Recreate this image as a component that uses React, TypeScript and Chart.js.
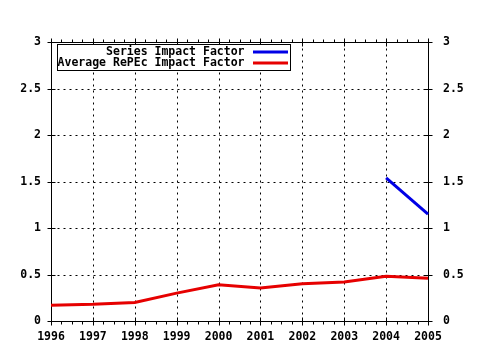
import React, { useEffect, useRef } from 'react';
import { Chart, registerables } from 'chart.js';
Chart.register(...registerables);

const years = [1996, 1997, 1998, 1999, 2000, 2001, 2002, 2003, 2004, 2005];
const seriesImpact: (number | null)[] = [null, null, null, null, null, null, null, null, 1.54, 1.15];
const avgImpact = [0.17, 0.18, 0.2, 0.3, 0.39, 0.355, 0.4, 0.42, 0.48, 0.46];
const yTicks = [0, 0.5, 1, 1.5, 2, 2.5, 3];
const yTickLabels = ['0', '0.5', '1', '1.5', '2', '2.5', '3'];
const seriesNames = ['Series Impact Factor', 'Average RePEc Impact Factor'];
const seriesColors = ['#0000e6', '#e60000'];

const FONT = "bold 11.5px 'DejaVu Sans Mono', monospace";

const gnuplotPlugin = {
  id: 'gnuplotFrame',
  beforeDatasetsDraw(chart: any) {
    const { ctx, chartArea: a, scales } = chart;
    const x = scales.x;
    const y = scales.y;
    const L = Math.round(a.left) + 0.5;
    const R = Math.round(a.right) + 0.5;
    const T = Math.round(a.top) + 0.5;
    const B = Math.round(a.bottom) + 0.5;
    const seg = (x1: number, y1: number, x2: number, y2: number) => {
      ctx.beginPath();
      ctx.moveTo(x1, y1);
      ctx.lineTo(x2, y2);
      ctx.stroke();
    };
    ctx.save();
    ctx.strokeStyle = '#000';
    ctx.lineWidth = 1;
    // grid
    ctx.setLineDash([2, 4]);
    years.slice(1, -1).forEach((yr) => {
      const px = Math.round(x.getPixelForValue(yr)) + 0.5;
      seg(px, T, px, B);
    });
    yTicks.slice(1, -1).forEach((v) => {
      const py = Math.round(y.getPixelForValue(v)) + 0.5;
      seg(L, py, R, py);
    });
    ctx.setLineDash([]);
    // border
    ctx.strokeRect(L, T, R - L, B - T);
    // x ticks
    for (let i = 0; i < years.length; i++) {
      const px = Math.round(x.getPixelForValue(years[i])) + 0.5;
      seg(px, B - 4, px, B + 4);
      seg(px, T - 4, px, T + 4);
      if (i < years.length - 1) {
        for (let q = 1; q < 4; q++) {
          const mx = Math.round(x.getPixelForValue(years[i] + q / 4)) + 0.5;
          seg(mx, B, mx, B + 3);
          seg(mx, T, mx, T - 3);
        }
      }
    }
    // y ticks
    yTicks.forEach((v) => {
      const py = Math.round(y.getPixelForValue(v)) + 0.5;
      seg(L - 4, py, L + 4, py);
      seg(R - 4, py, R + 4, py);
    });
    // labels
    ctx.fillStyle = '#000';
    ctx.font = FONT;
    ctx.textBaseline = 'middle';
    ctx.textAlign = 'center';
    years.forEach((yr) => {
      ctx.fillText(String(yr), x.getPixelForValue(yr), 337);
    });
    yTicks.forEach((v, i) => {
      const py = y.getPixelForValue(v) + 0.5;
      ctx.textAlign = 'right';
      ctx.fillText(yTickLabels[i], 41, py);
      ctx.textAlign = 'left';
      ctx.fillText(yTickLabels[i], 443, py);
    });
    ctx.restore();
  },
  afterDatasetsDraw(chart: any) {
    const { ctx } = chart;
    ctx.save();
    ctx.fillStyle = '#fff';
    ctx.fillRect(57.5, 44.5, 233, 26);
    ctx.strokeStyle = '#000';
    ctx.lineWidth = 1;
    ctx.strokeRect(57.5, 44.5, 233, 26);
    ctx.font = FONT;
    ctx.textBaseline = 'middle';
    ctx.textAlign = 'right';
    const rows = [51.7, 63.3];
    seriesNames.forEach((name, i) => {
      ctx.fillStyle = '#000';
      ctx.fillText(name, 244.5, rows[i]);
      ctx.strokeStyle = seriesColors[i];
      ctx.lineWidth = 3;
      ctx.beginPath();
      ctx.moveTo(253, Math.round(rows[i]));
      ctx.lineTo(288, Math.round(rows[i]));
      ctx.stroke();
    });
    ctx.restore();
  },
};

export default function App() {
  const ref = useRef<HTMLCanvasElement | null>(null);
  useEffect(() => {
    if (!ref.current) return;
    const chart = new Chart(ref.current, {
      type: 'line',
      data: {
        datasets: [
          {
            label: seriesNames[0],
            data: years.map((yr, i) => ({ x: yr, y: seriesImpact[i] })) as any,
            borderColor: seriesColors[0],
            borderWidth: 3,
            pointRadius: 0,
            tension: 0,
            spanGaps: false,
            clip: false as any,
          },
          {
            label: seriesNames[1],
            data: years.map((yr, i) => ({ x: yr, y: avgImpact[i] })) as any,
            borderColor: seriesColors[1],
            borderWidth: 3,
            pointRadius: 0,
            tension: 0,
            clip: false as any,
          },
        ],
      },
      options: {
        responsive: false,
        animation: false,
        layout: { padding: { left: 51, right: 52, top: 42, bottom: 29 } },
        plugins: { legend: { display: false }, tooltip: { enabled: false } },
        scales: {
          x: { type: 'linear', min: 1996, max: 2005, display: false },
          y: { type: 'linear', min: 0, max: 3, display: false },
        },
      },
      plugins: [gnuplotPlugin],
    });
    return () => chart.destroy();
  }, []);
  return (
    <div style={{ position: 'fixed', left: 0, top: 0, width: 480, height: 350, background: '#fff' }}>
      <canvas ref={ref} width={480} height={350} />
    </div>
  );
}
